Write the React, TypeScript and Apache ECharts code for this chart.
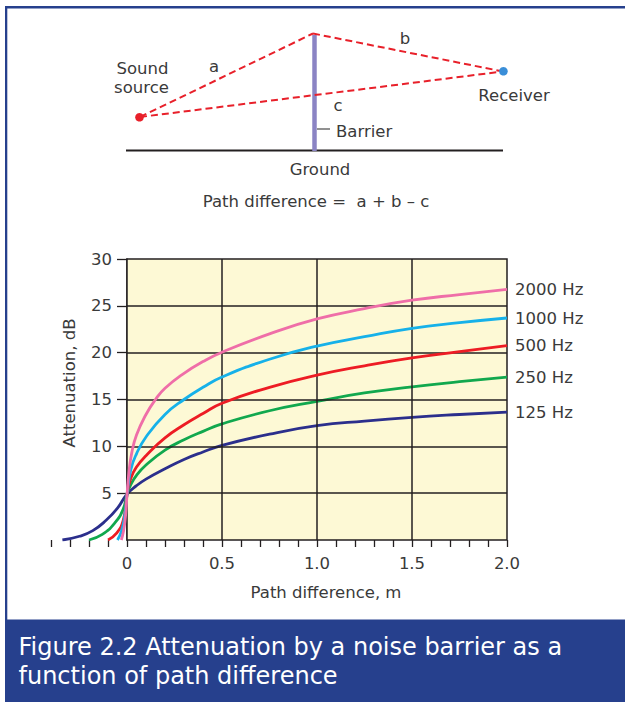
import React, { useEffect, useRef } from "react";
import * as echarts from "echarts";

// ---- data ----
const hz125: [number, number][] = [
  [-0.34, 0], [-0.25, 0.4], [-0.18, 1.0], [-0.11, 2.1], [-0.05, 3.4], [0, 4.9],
  [0.05, 5.8], [0.1, 6.5], [0.2, 7.6], [0.3, 8.6], [0.4, 9.4], [0.5, 10.1],
  [0.75, 11.3], [1.0, 12.2], [1.25, 12.7], [1.5, 13.1], [1.75, 13.4], [2.0, 13.65],
];
const hz250: [number, number][] = [
  [-0.2, 0], [-0.13, 0.6], [-0.065, 1.8], [-0.02, 3.3], [0, 4.9], [0.02, 5.9],
  [0.05, 6.9], [0.1, 8.0], [0.2, 9.6], [0.3, 10.7], [0.4, 11.6], [0.5, 12.4],
  [0.75, 13.8], [1.0, 14.8], [1.25, 15.7], [1.5, 16.35], [1.75, 16.9], [2.0, 17.4],
];
const hz500: [number, number][] = [
  [-0.1, 0], [-0.056, 0.7], [-0.02, 2.1], [0, 4.8], [0.02, 6.6], [0.05, 7.8],
  [0.1, 9.0], [0.2, 10.9], [0.3, 12.3], [0.4, 13.5], [0.5, 14.6], [0.75, 16.3],
  [1.0, 17.6], [1.25, 18.6], [1.5, 19.45], [1.75, 20.1], [2.0, 20.75],
];
const hz1000: [number, number][] = [
  [-0.05, 0], [-0.03, 0.9], [-0.015, 2.2], [0, 4.8], [0.02, 7.5], [0.05, 9.2],
  [0.1, 11.0], [0.2, 13.4], [0.3, 15.0], [0.4, 16.3], [0.5, 17.4], [0.75, 19.3],
  [1.0, 20.7], [1.25, 21.7], [1.5, 22.6], [1.75, 23.2], [2.0, 23.7],
];
const hz2000: [number, number][] = [
  [-0.03, 0], [-0.018, 1.0], [-0.008, 2.5], [0, 4.8], [0.01, 7.2], [0.025, 9.3],
  [0.05, 11.2], [0.1, 13.4], [0.15, 15.0], [0.2, 16.2], [0.3, 17.8], [0.4, 19.05],
  [0.5, 20.05], [0.75, 22.0], [1.0, 23.6], [1.25, 24.7], [1.5, 25.6], [1.75, 26.2], [2.0, 26.75],
];

const seriesNames = ["125 Hz", "250 Hz", "500 Hz", "1000 Hz", "2000 Hz"];
const seriesData = [hz125, hz250, hz500, hz1000, hz2000];
const seriesColors = ["#2b2f8c", "#11a84e", "#ed1c24", "#16b1e9", "#ef6ea8"];

const xTicks = [
  -0.4, -0.3, -0.2, -0.1, 0, 0.1, 0.2, 0.3, 0.4, 0.5, 0.6, 0.7, 0.8, 0.9, 1.0,
  1.1, 1.2, 1.3, 1.4, 1.5, 1.6, 1.7, 1.8, 1.9, 2.0,
];
const xLabelValues = [0, 0.5, 1.0, 1.5, 2.0];
const xLabelTexts = ["0", "0.5", "1.0", "1.5", "2.0"];
const yTicks = [5, 10, 15, 20, 25, 30];
const gridXs = [0.5, 1.0, 1.5];
const gridYs = [5, 10, 15, 20, 25];
const xMin = -0.4;
const xMax = 2.0;
const plotXMin = 0;
const yMin = 0;
const yMax = 30;

const FONT = "DejaVu Sans";
const TXT = "#3a3a3a";
const INK = "#231f20";
const NAVY = "#26408d";

export default function App() {
  const ref = useRef<HTMLDivElement>(null);
  useEffect(() => {
    if (!ref.current) return;
    const chart = echarts.init(ref.current, null, { renderer: "svg" });
    const t = (text: string, x: number, y: number, extra: any = {}) => ({
      type: "text",
      x,
      y,
      silent: true,
      style: {
        text,
        fill: TXT,
        fontFamily: FONT,
        fontSize: 16.5,
        align: "center",
        verticalAlign: "middle",
        ...extra,
      },
    });
    const dash = (x1: number, y1: number, x2: number, y2: number) => ({
      type: "line",
      silent: true,
      shape: { x1, y1, x2, y2 },
      style: { stroke: "#e8202a", lineWidth: 2, lineDash: [7, 4] },
    });
    const option: any = {
      animation: false,
      grid: { left: 51, right: 118, top: 259, bottom: 162, containLabel: false },
      xAxis: {
        type: "value",
        min: xMin,
        max: xMax,
        interval: 0.1,
        axisLine: { show: false },
        axisTick: {
          show: true,
          length: 7,
          customValues: xTicks,
          lineStyle: { color: INK, width: 1.3 },
        },
        axisLabel: {
          customValues: xLabelValues,
          margin: 15,
          color: TXT,
          fontFamily: FONT,
          fontSize: 16.5,
          formatter: (v: number) => {
            const i = xLabelValues.findIndex((d) => Math.abs(d - v) < 1e-6);
            return i >= 0 ? xLabelTexts[i] : "";
          },
        },
        splitLine: { show: false },
      },
      yAxis: {
        type: "value",
        min: yMin,
        max: yMax,
        interval: 5,
        offset: -76,
        axisLine: { show: true, onZero: false, lineStyle: { color: INK, width: 1.5 } },
        axisTick: { show: true, length: 10, customValues: yTicks, lineStyle: { color: INK, width: 1.3 } },
        axisLabel: {
          customValues: yTicks,
          margin: 15,
          color: TXT,
          fontFamily: FONT,
          fontSize: 16.5,
        },
        splitLine: { show: false },
      },
      series: [
        {
          type: "line",
          name: "frame",
          data: [],
          z: 1,
          silent: true,
          markArea: {
            silent: true,
            itemStyle: { color: "#fdf9d5", borderColor: INK, borderWidth: 1.5 },
            data: [[{ coord: [plotXMin, yMin] }, { coord: [xMax, yMax] }]],
          },
        },
        {
          type: "line",
          name: "grid",
          data: [],
          z: 2,
          silent: true,
          markLine: {
            silent: true,
            symbol: ["none", "none"],
            label: { show: false },
            lineStyle: { color: INK, width: 1.5, type: "solid" },
            data: [
              ...gridXs.map((x) => [{ coord: [x, yMin] }, { coord: [x, yMax] }]),
              ...gridYs.map((y) => [{ coord: [plotXMin, y] }, { coord: [xMax, y] }]),
            ],
          },
        },
        ...seriesData.map((d, i) => ({
          type: "line",
          name: seriesNames[i],
          data: d,
          z: 3 + i,
          smooth: 0.5,
          showSymbol: false,
          symbol: "none",
          lineStyle: { color: seriesColors[i], width: 2.8 },
          itemStyle: { color: seriesColors[i] },
          endLabel: {
            show: true,
            formatter: seriesNames[i],
            distance: 8,
            color: TXT,
            fontFamily: FONT,
            fontSize: 16.5,
          },
        })),
      ],
      graphic: [
        // frame
        { type: "rect", silent: true, shape: { x: 5, y: 6, width: 620, height: 2.6 }, style: { fill: NAVY } },
        { type: "rect", silent: true, shape: { x: 5, y: 6, width: 2.3, height: 614 }, style: { fill: NAVY } },
        { type: "rect", silent: true, shape: { x: 5, y: 619.5, width: 620, height: 83 }, style: { fill: NAVY } },
        t("Figure 2.2 Attenuation by a noise barrier as a", 18.5, 647, { fill: "#ffffff", fontSize: 24, align: "left" }),
        t("function of path difference", 18.5, 676, { fill: "#ffffff", fontSize: 24, align: "left" }),
        // diagram
        { type: "line", silent: true, shape: { x1: 126, y1: 150.5, x2: 503, y2: 150.5 }, style: { stroke: INK, lineWidth: 2 } },
        { type: "line", silent: true, shape: { x1: 314.5, y1: 35, x2: 314.5, y2: 151 }, style: { stroke: "#8b84c4", lineWidth: 4.5 } },
        { type: "line", silent: true, shape: { x1: 317, y1: 129, x2: 330, y2: 129 }, style: { stroke: "#555", lineWidth: 1.3 } },
        dash(140, 117, 313, 33.5),
        dash(313, 33.5, 503, 71.5),
        dash(140, 117, 503, 71.5),
        { type: "circle", silent: true, shape: { cx: 139.5, cy: 117.3, r: 4.3 }, style: { fill: "#e8202a" } },
        { type: "circle", silent: true, shape: { cx: 503.4, cy: 71.3, r: 4.3 }, style: { fill: "#3a8ed8" } },
        t("Sound", 142.5, 68),
        t("source", 141.5, 87),
        t("a", 214, 66),
        t("b", 405, 38),
        t("c", 338, 105),
        t("Barrier", 336, 131.5, { align: "left" }),
        t("Receiver", 514, 95.5),
        t("Ground", 320, 169),
        t("Path difference =  a + b \u2013 c", 316, 201.5),
        // axis names
        t("Path difference, m", 326, 592.5),
        { ...t("Attenuation, dB", 69, 383), rotation: Math.PI / 2 },
      ],
    };
    chart.setOption(option);
    return () => chart.dispose();
  }, []);
  return (
    <div
      ref={ref}
      style={{ position: "absolute", left: 0, top: 0, width: 625, height: 702, background: "#ffffff" }}
    />
  );
}
